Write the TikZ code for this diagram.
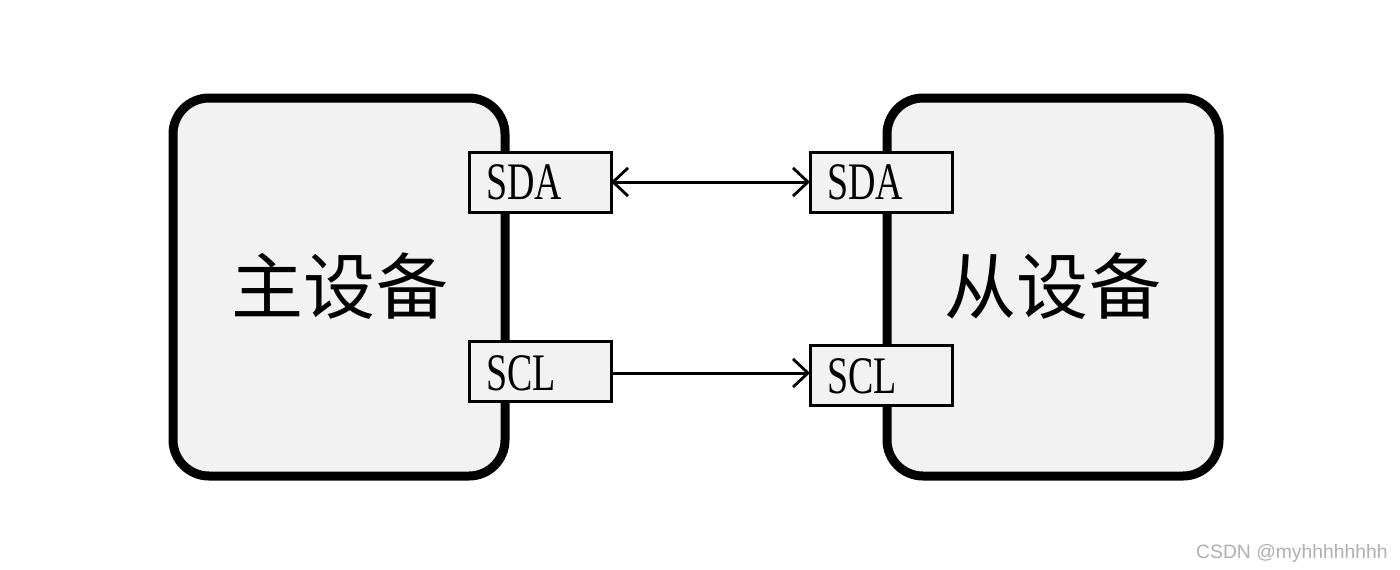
\documentclass[tikz,border=0pt]{standalone}
\usepackage{fontspec}
\setmainfont{Liberation Serif}
\newfontfamily\cjk{Noto Sans CJK SC}
\newfontfamily\wm{Liberation Sans}
\usetikzlibrary{arrows.meta}
\definecolor{boxfill}{HTML}{F2F2F2}
\definecolor{wmgray}{HTML}{B0B0B0}
\begin{document}
\begin{tikzpicture}[x=0.02cm,y=-0.02cm,
  device/.style={draw=black,line width=9*0.02cm,rounded corners=36*0.02cm,fill=boxfill},
  pin/.style={draw=black,line width=3*0.02cm,fill=boxfill,minimum width=142*0.02cm,minimum height=60*0.02cm,inner sep=0pt,outer sep=0pt},
  pinlabel/.style={font=\fontsize{30}{30}\selectfont,anchor=west,inner sep=0pt},
  big/.style={font=\cjk\fontsize{41}{41}\selectfont,inner sep=0pt},
  tip/.tip={Straight Barb[length=8.5pt,width=16pt,line width=1.6pt]},
  wire/.style={line width=3*0.02cm,-tip}
]
\useasboundingbox (0,0) rectangle (1400,569);
\fill[white] (0,0) rectangle (1400,569);
% devices
\draw[device] (173,98) rectangle (505,476);
\draw[device] (887,98) rectangle (1219,476);
\node[big] (master) at (340,286) {主设备};
\node[big] (slave) at (1053,286) {从设备};
% pins
\node[pin] (msda) at (540,182) {};
\node[pin] (ssda) at (881,182) {};
\node[pin] (mscl) at (540,371.5) {};
\node[pin] (sscl) at (881,375) {};
\node[pinlabel] at (486,182) {\scalebox{0.72}[1]{SDA}};
\node[pinlabel] at (827,182) {\scalebox{0.72}[1]{SDA}};
\node[pinlabel] at (486,373) {\scalebox{0.72}[1]{SCL}};
\node[pinlabel] at (827,376) {\scalebox{0.72}[1]{SCL}};
% wires
\draw[wire,tip-tip] (msda.east) -- (ssda.west);
\draw[wire] (mscl.east |- 0,373) -- (sscl.west |- 0,373);
% watermark
\node[font=\wm\fontsize{11}{11}\selectfont,text=wmgray,anchor=east,inner sep=0pt] (wmark) at (1388,553) {CSDN @myhhhhhhhh};
\end{tikzpicture}
\end{document}
